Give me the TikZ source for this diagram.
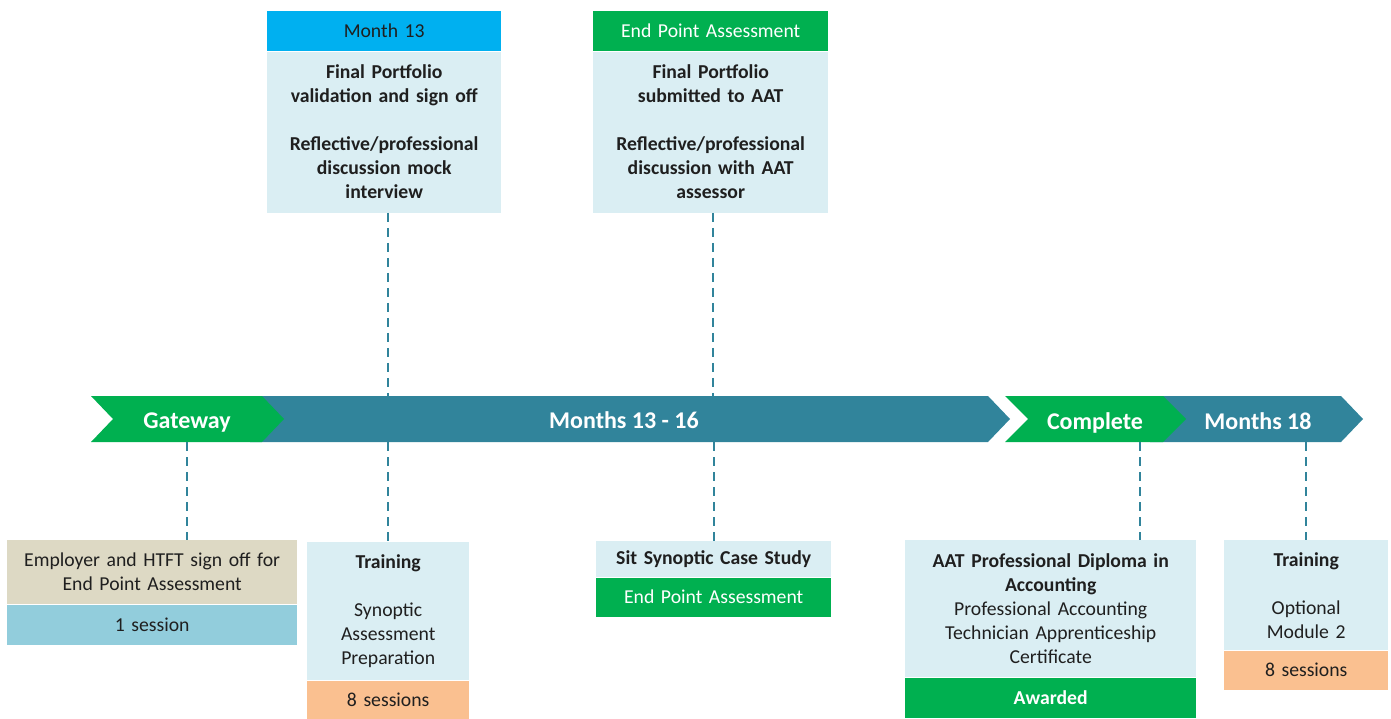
\documentclass[tikz,border=0pt]{standalone}
\usepackage{fontspec}
\setmainfont{Carlito}
\usetikzlibrary{positioning}
\definecolor{epagreen}{HTML}{00B050}
\definecolor{barteal}{HTML}{31849B}
\definecolor{headcyan}{HTML}{00B0F0}
\definecolor{paleblue}{HTML}{DAEEF3}
\definecolor{paletan}{HTML}{DDD9C4}
\definecolor{midblue}{HTML}{92CDDC}
\definecolor{peach}{HTML}{FAC090}
\definecolor{ink}{HTML}{1F1F1F}

\begin{document}
\begin{tikzpicture}[x=1pt,y=-1pt,
    box/.style={inner sep=0pt,align=center,anchor=north west,text=ink,
      font=\fontsize{19.7}{24}\selectfont},
    bbox/.style={box,font=\bfseries\fontsize{19.7}{24}\selectfont},
    bartxt/.style={anchor=base,text=white,font=\bfseries\fontsize{24}{29}\selectfont},
    link/.style={draw=barteal,line width=2pt,dash pattern=on 9pt off 6pt}]
  \useasboundingbox (0,0) rectangle (1391,719);

  %% the time bar
  \fill[barteal] (250,396) -- (988,396) -- (1010,419) -- (988,442) -- (250,442) -- cycle;
  \fill[epagreen] (91,396) -- (262,396) -- (284,419) -- (262,442) -- (91,442) -- (113,419) -- cycle;
  \fill[barteal] (1150,396) -- (1341,396) -- (1363,419) -- (1341,442) -- (1150,442) -- cycle;
  \fill[epagreen] (1005,396) -- (1163,396) -- (1186,419) -- (1163,442) -- (1005,442) -- (1028,419) -- cycle;
  \coordinate (bartop) at (0,396);
  \coordinate (barbot) at (0,442);
  \node[bartxt] (gate) at (187,428) {Gateway};
  \node[bartxt] (span) at (624,428) {Months 13 - 16};
  \node[bartxt] (done) at (1095,429) {Complete};
  \node[bartxt] (last) at (1258,429) {Months 18};

  %% above the bar
  \node[box,fill=headcyan,text width=234pt,minimum height=40pt] (m13head) at (267,11) {Month 13};
  \node[bbox,fill=paleblue,text width=234pt,minimum height=161pt,below=0pt of m13head] (m13body)
    {Final Portfolio\\validation and sign off\\[24pt]Reflective/professional\\discussion mock\\interview};
  \node[box,fill=epagreen,text=white,text width=235pt,minimum height=40pt] (epahead) at (593,11) {End Point Assessment};
  \node[bbox,fill=paleblue,text width=235pt,minimum height=161pt,below=0pt of epahead] (epabody)
    {Final Portfolio\\submitted to AAT\\[24pt]Reflective/professional\\discussion with AAT\\assessor};

  %% below the bar
  \node[box,fill=paletan,text width=290pt,minimum height=64pt] (emptop) at (7,540)
    {Employer and HTFT sign off for\\End Point Assessment};
  \node[box,fill=midblue,text width=290pt,minimum height=40pt,below=0pt of emptop] (empses) {1 session};

  \node[box,fill=paleblue,text width=162pt,minimum height=138pt] (trainbody) at (307,542)
    {\textbf{Training}\\[24pt]Synoptic\\Assessment\\Preparation};
  \node[box,fill=peach,text width=162pt,minimum height=38pt,below=0pt of trainbody] (trainses) {8 sessions};

  \node[bbox,fill=paleblue,text width=235pt,minimum height=36pt] (sitbox) at (596,541) {Sit Synoptic Case Study};
  \node[box,fill=epagreen,text=white,text width=235pt,minimum height=39pt,below=0pt of sitbox] (sitepa) {End Point Assessment};

  \node[box,fill=paleblue,text width=291pt,minimum height=137pt] (aatbody) at (905,540)
    {\textbf{AAT Professional Diploma in}\\\textbf{Accounting}\\Professional Accounting\\Technician Apprenticeship\\Certificate};
  \node[bbox,fill=epagreen,text=white,text width=291pt,minimum height=40pt,below=0pt of aatbody] (aatawd) {Awarded};

  \node[box,fill=paleblue,text width=164pt,minimum height=110pt] (optbody) at (1224,540)
    {\textbf{Training}\\[24pt]Optional\\Module 2};
  \node[box,fill=peach,text width=164pt,minimum height=39pt,below=0pt of optbody] (optses) {8 sessions};

  %% dashed ticks
  \coordinate (m13tick) at (388,0);
  \coordinate (epatick) at (713,0);
  \coordinate (awdtick) at (1140,0);
  \draw[link] (m13tick |- m13body.south) -- (m13tick |- bartop);
  \draw[link] (epatick |- epabody.south) -- (epatick |- bartop);
  \draw[link] (gate |- barbot) -- (gate |- emptop.north);
  \draw[link] (trainbody.north |- barbot) -- (trainbody.north);
  \draw[link] (sitbox.north |- barbot) -- (sitbox.north);
  \draw[link] (awdtick |- barbot) -- (awdtick |- aatbody.north);
  \draw[link] (optbody.north |- barbot) -- (optbody.north);
\end{tikzpicture}
\end{document}
